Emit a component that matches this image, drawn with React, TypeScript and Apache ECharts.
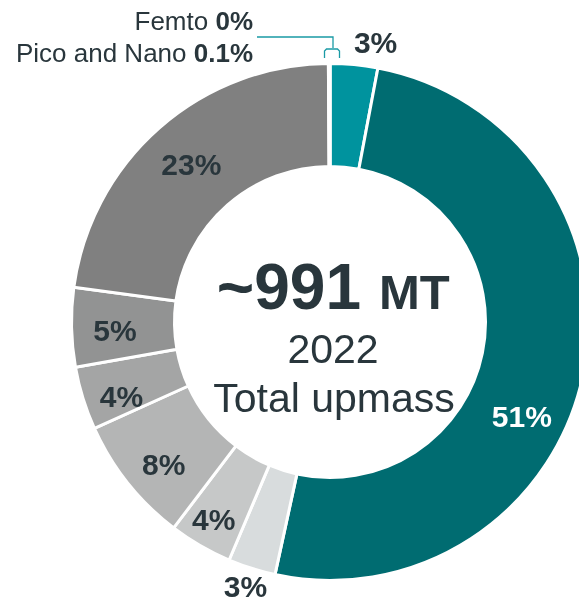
import React, { useEffect, useRef } from "react";
import * as echarts from "echarts";

// ---- Data ----
const CATEGORIES = [
  "Segment 1",
  "Segment 2",
  "Segment 3",
  "Segment 4",
  "Segment 5",
  "Segment 6",
  "Segment 7",
  "Segment 8",
  "Pico and Nano",
  "Femto",
];
const VALUES = [3, 51, 3, 4, 8, 4, 5, 23, 0.1, 0];
const SLICE_COLORS = [
  "#00939E",
  "#006C71",
  "#D8DCDD",
  "#C6C8C8",
  "#B4B5B5",
  "#A4A5A5",
  "#929393",
  "#808080",
  "#808080",
  "#808080",
];
const CENTER_TOTAL = "~991";
const CENTER_UNIT = "MT";
const CENTER_YEAR = "2022";
const CENTER_CAPTION = "Total upmass";
const SMALL_NAMES = ["Femto", "Pico and Nano"];
const SMALL_VALUES = ["0%", "0.1%"];

// ---- Style (label nudges from the default inside position) ----
const LABEL_NUDGE: Array<[number, number]> = [
  [26, -70],
  [-14, 53],
  [-21, 64],
  [-11, 16],
  [-2, 12],
  [-8, 12],
  [-5, 4],
  [0, 0],
];
const TEXT = "#29363C";
const FONT = "'Liberation Sans', Arial, sans-serif";
const LINE = "#1A9AA5";

export default function App() {
  const ref = useRef<HTMLDivElement>(null);
  useEffect(() => {
    document.body.style.margin = "0";
    if (!ref.current) return;
    const chart = echarts.init(ref.current, null, { renderer: "svg" });
    const data = VALUES.map((v, i) => ({
      name: CATEGORIES[i],
      value: v,
      itemStyle: { color: SLICE_COLORS[i] },
      label: {
        show: i < 8,
        color: i === 1 ? "#FFFFFF" : TEXT,
      },
    }));
    chart.setOption({
      animation: false,
      series: [
        {
          type: "pie",
          center: [330, 322],
          radius: [155.5, 258.5],
          startAngle: 90,
          clockwise: true,
          avoidLabelOverlap: false,
          itemStyle: { borderColor: "#FFFFFF", borderWidth: 3 },
          emphasis: { disabled: true },
          label: {
            show: true,
            position: "inside",
            formatter: "{c}%",
            fontFamily: FONT,
            fontWeight: "bold",
            fontSize: 30,
          },
          labelLine: { show: false },
          labelLayout: (params: any) => {
            const n = LABEL_NUDGE[params.dataIndex];
            return n ? { dx: n[0], dy: n[1] } : {};
          },
          data,
        },
      ],
      graphic: [
        {
          type: "text",
          x: 361,
          y: 287,
          style: {
            text: CENTER_TOTAL,
            font: `bold 64px ${FONT}`,
            fill: TEXT,
            textAlign: "right",
            textVerticalAlign: "middle",
          },
        },
        {
          type: "text",
          x: 379,
          y: 292,
          style: {
            text: CENTER_UNIT,
            font: `bold 49px ${FONT}`,
            fill: TEXT,
            textAlign: "left",
            textVerticalAlign: "middle",
          },
        },
        {
          type: "text",
          x: 333,
          y: 349,
          style: {
            text: CENTER_YEAR,
            font: `41px ${FONT}`,
            fill: TEXT,
            textAlign: "center",
            textVerticalAlign: "middle",
          },
        },
        {
          type: "text",
          x: 334,
          y: 398,
          style: {
            text: CENTER_CAPTION,
            font: `41px ${FONT}`,
            fill: TEXT,
            textAlign: "center",
            textVerticalAlign: "middle",
          },
        },
        {
          type: "text",
          x: 253,
          y: 21,
          style: {
            text: `${SMALL_NAMES[0]} {b|${SMALL_VALUES[0]}}`,
            font: `26px ${FONT}`,
            fill: TEXT,
            textAlign: "right",
            textVerticalAlign: "middle",
            rich: {
              b: { font: `bold 26px ${FONT}`, fill: TEXT },
            },
          },
        },
        {
          type: "text",
          x: 253,
          y: 53,
          style: {
            text: `${SMALL_NAMES[1]} {b|${SMALL_VALUES[1]}}`,
            font: `26px ${FONT}`,
            fill: TEXT,
            textAlign: "right",
            textVerticalAlign: "middle",
            rich: {
              b: { font: `bold 26px ${FONT}`, fill: TEXT },
            },
          },
        },
        {
          type: "polyline",
          shape: {
            points: [
              [257, 37],
              [333, 37],
              [333, 48],
            ],
          },
          style: { stroke: LINE, lineWidth: 1.3, fill: null },
        },
        {
          type: "polyline",
          shape: {
            points: [
              [324.5, 58],
              [324.5, 51],
              [326.5, 49],
              [337.5, 49],
              [339.5, 51],
              [339.5, 58],
            ],
          },
          style: { stroke: LINE, lineWidth: 1.3, fill: null },
        },
      ],
    });
    return () => chart.dispose();
  }, []);
  return (
    <div
      ref={ref}
      style={{ position: "fixed", left: 0, top: 0, width: 579, height: 602 }}
    />
  );
}
